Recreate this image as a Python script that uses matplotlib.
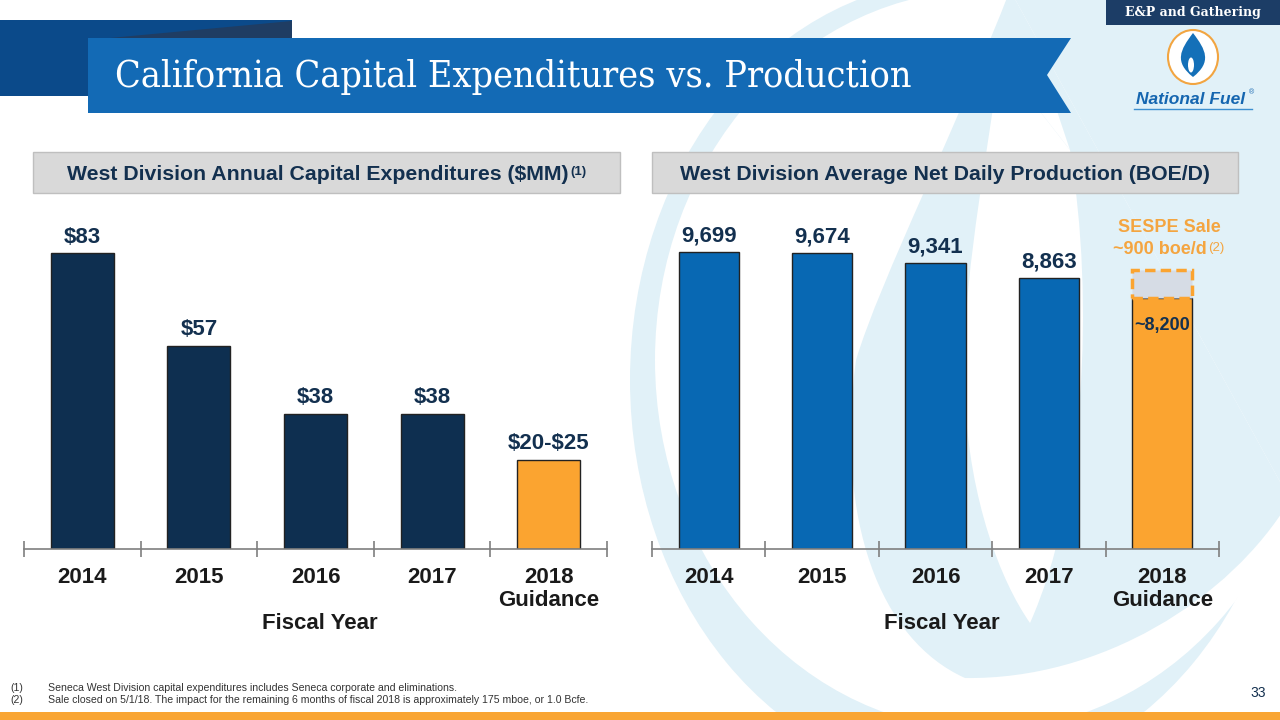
import matplotlib
matplotlib.use("Agg")
import matplotlib.pyplot as plt
from matplotlib import patches
from matplotlib.path import Path
from matplotlib.font_manager import fontManager

# data
years = ["2014", "2015", "2016", "2017", "2018\nGuidance"]
capex = [83, 57, 38, 38, 25]
capex_labels = [r"\$83", r"\$57", r"\$38", r"\$38", r"\$20-\$25"]
production = [9699, 9674, 9341, 8863, 8200]
production_labels = ["9,699", "9,674", "9,341", "8,863", "~8,200"]
sespe_sale = 900

SANS = "Liberation Sans"
SERIF = "DejaVu Serif"
serif_condensed = any(f.name == SERIF and "condensed" in str(f.stretch) for f in fontManager.ttflist)

NAVY = "#0E2F50"
BLUE = "#0868B3"
ORANGE = "#FBA430"
TEXT_NAVY = "#13304F"
LIGHT = "#E1F1F8"

fig = plt.figure(figsize=(12.8, 7.2), dpi=100)

# background decoration in pixel coordinates
bg = fig.add_axes([0, 0, 1, 1])
bg.set_xlim(0, 1280)
bg.set_ylim(720, 0)
bg.axis("off")

C = [Path.MOVETO] + [Path.CURVE4] * 9
bg.add_patch(patches.Ellipse((960, 380), 660, 800, color=LIGHT, lw=0))
bg.add_patch(patches.Ellipse((985, 360), 660, 740, color="white", lw=0))
flame = Path([(1010, -10), (960, 120), (880, 280), (856, 360),
              (835, 520), (880, 640), (965, 678),
              (1100, 680), (1230, 600), (1290, 500),
              ], C)
bg.add_patch(patches.PathPatch(flame, color=LIGHT, lw=0))
bg.add_patch(patches.Polygon([(1010, -10), (1290, 500), (1300, -10)], color=LIGHT, lw=0))
drop = Path([(1000, 60), (980, 200), (960, 300), (965, 400),
             (970, 500), (1000, 580), (1030, 623),
             (1085, 500), (1095, 300), (1070, 150)], C)
bg.add_patch(patches.PathPatch(drop, color="white", lw=0))
bg.add_patch(patches.Polygon([(1000, 60), (1070, 150), (1040, 60)], color="white", lw=0))

# header banner
bg.add_patch(patches.Rectangle((0, 20), 292, 76, color="#0B4A8A", lw=0))
bg.add_patch(patches.Polygon([(110, 38), (292, 21), (292, 38)], color="#1F3D63", lw=0))
bg.add_patch(patches.Polygon([(88, 38), (1071, 38), (1047, 75), (1071, 113), (88, 113)],
                             color="#136AB5", lw=0))
if serif_condensed:
    bg.text(115, 77, "California Capital Expenditures vs. Production", family=SERIF,
            fontstretch="condensed", fontsize=27, color="white", va="center", ha="left")
else:
    bg.text(115, 77, "California Capital Expenditures vs. Production", family=SERIF,
            fontsize=24.5, color="white", va="center", ha="left")

bg.add_patch(patches.Rectangle((1106, 0), 174, 25, color="#1C3D66", lw=0))
bg.text(1193, 12.5, "E&P and Gathering", family=SERIF, fontweight="bold",
        fontsize=9, color="white", ha="center", va="center")

# logo
bg.add_patch(patches.Ellipse((1193, 57), 50, 54, facecolor="white", edgecolor="#F2A541", lw=1.5))
logo = Path([(1193, 33), (1206, 50), (1212, 62), (1193, 77),
             (1174, 62), (1180, 50), (1193, 33)],
            [Path.MOVETO, Path.CURVE4, Path.CURVE4, Path.CURVE4,
             Path.CURVE4, Path.CURVE4, Path.CURVE4])
bg.add_patch(patches.PathPatch(logo, color="#1470B8", lw=0))
bg.add_patch(patches.Ellipse((1191, 65), 6, 15, color="white", lw=0))
bg.text(1191, 99, "National Fuel", family=SANS, fontstyle="italic", fontweight="bold",
        fontsize=12.5, color="#1566B0", ha="center", va="center")
bg.text(1249, 93, "®", family=SANS, fontsize=5, color="#1566B0", ha="left", va="center")
bg.plot([1134, 1252], [109, 109], color="#3C8FD0", lw=1)

# section headers
for x0, x1 in [(33, 620), (652, 1238)]:
    bg.add_patch(patches.Rectangle((x0, 152), x1 - x0, 41, facecolor="#D9D9D9",
                                   edgecolor="#BFBFBF", lw=1))
h1 = bg.text(318, 174, "West Division Annual Capital Expenditures ($MM)", family=SANS,
             fontweight="bold", fontsize=15.3, color=TEXT_NAVY, ha="center", va="center")
bg.text(945, 174, "West Division Average Net Daily Production (BOE/D)", family=SANS,
        fontweight="bold", fontsize=15.3, color=TEXT_NAVY, ha="center", va="center")

# footer
foot = dict(family=SANS, fontsize=7.6, color="#333333", va="center")
bg.text(10, 688, "(1)", **foot)
bg.text(48, 688, "Seneca West Division capital expenditures includes Seneca corporate and eliminations.", **foot)
bg.text(10, 700, "(2)", **foot)
bg.text(48, 700, "Sale closed on 5/1/18. The impact for the remaining 6 months of fiscal 2018 is "
        "approximately 175 mboe, or 1.0 Bcfe.", **foot)
bg.text(1266, 693, "33", family=SANS, fontsize=10, color=TEXT_NAVY, ha="right", va="center")
bg.add_patch(patches.Rectangle((0, 712), 1280, 8, color="#F9A533", lw=0))


def style_axis(ax, label_x):
    ax.set_facecolor("none")
    for s in ["left", "right", "top"]:
        ax.spines[s].set_visible(False)
    ax.spines["bottom"].set_color("#7F7F7F")
    ax.spines["bottom"].set_linewidth(1.2)
    ax.set_yticks([])
    ax.set_xlim(-0.5, len(years) - 0.5)
    ax.set_xticks(range(len(years)))
    ax.set_xticklabels(years, family=SANS, fontweight="bold", fontsize=16,
                       color="#1A1A1A", linespacing=1.15)
    ax.set_xticks([i - 0.5 for i in range(len(years) + 1)], minor=True)
    ax.tick_params(axis="x", which="major", length=0, pad=13)
    ax.tick_params(axis="x", which="minor", length=12, direction="inout",
                   color="#7F7F7F", width=1.2)
    ax.set_xlabel("Fiscal Year", family=SANS, fontweight="bold", fontsize=16,
                  color="#1A1A1A")
    ax.xaxis.set_label_coords(label_x, -0.182)


# left chart
ax1 = fig.add_axes([24 / 1280, 171 / 720, 583 / 1280, 349 / 720])
colors1 = [NAVY] * 4 + [ORANGE]
ax1.bar(range(len(years)), capex, width=0.54, color=colors1, edgecolor="#222222", lw=1)
ax1.set_ylim(0, 349 / 3.565)
style_axis(ax1, 0.508)
for i, (v, lab) in enumerate(zip(capex, capex_labels)):
    ax1.annotate(lab, (i, v), xytext=(0, 4), textcoords="offset points",
                 ha="center", va="bottom", family=SANS, fontweight="bold",
                 fontsize=16, color=TEXT_NAVY)

# right chart
ax2 = fig.add_axes([652 / 1280, 171 / 720, 567 / 1280, 349 / 720])
colors2 = [BLUE] * 4 + [ORANGE]
ax2.bar(range(len(years)), production, width=0.53, color=colors2, edgecolor="#222222", lw=1)
ax2.bar(len(years) - 1, sespe_sale, bottom=production[-1], width=0.53, facecolor="#D6DCE5",
        edgecolor=ORANGE, lw=2.5, linestyle=(0, (3, 1.5)))
ax2.set_ylim(0, 349 / 0.03062)
style_axis(ax2, 0.511)
for i, (v, lab) in enumerate(zip(production[:-1], production_labels[:-1])):
    ax2.annotate(lab, (i, v), xytext=(0, 4), textcoords="offset points",
                 ha="center", va="bottom", family=SANS, fontweight="bold",
                 fontsize=16, color=TEXT_NAVY)
ax2.annotate(production_labels[-1], (len(years) - 1, production[-1]), xytext=(0, -14),
             textcoords="offset points", ha="center", va="top", family=SANS,
             fontweight="bold", fontsize=13, color=TEXT_NAVY)
ax2.annotate("SESPE Sale", (len(years) - 1, production[-1] + sespe_sale), xytext=(5, 25),
             textcoords="offset points", ha="center", va="bottom", family=SANS,
             fontweight="bold", fontsize=13, color="#F4A540")
s2 = ax2.annotate("~900 boe/d", (len(years) - 1, production[-1] + sespe_sale), xytext=(-2, 9),
                  textcoords="offset points", ha="center", va="bottom", family=SANS,
                  fontweight="bold", fontsize=13, color="#F4A540")

# superscripts placed after their text
fig.canvas.draw()
r = fig.canvas.get_renderer()
for t, sup, col in [(h1, "(1)", TEXT_NAVY), (s2, "(2)", "#F4A540")]:
    bb = t.get_window_extent(r)
    fig.text(bb.x1 / 1280 + 0.001, (bb.y1 - 1) / 720, sup, family=SANS, fontsize=9.5,
             color=col, ha="left", va="top", fontweight="bold" if t is h1 else "normal")

fig.savefig("out.png", dpi=100)
